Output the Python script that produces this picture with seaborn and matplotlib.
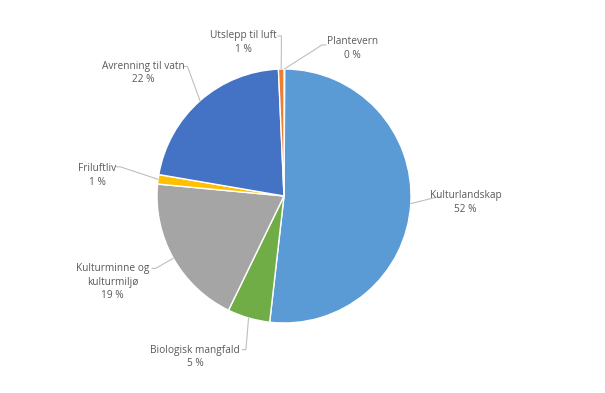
import numpy as np
import matplotlib
matplotlib.use("Agg")
import matplotlib.pyplot as plt
import seaborn as sns

# data (clockwise from 12 o'clock)
categories = ["Plantevern", "Kulturlandskap", "Biologisk mangfald",
              "Kulturminne og\nkulturmiljø", "Friluftliv",
              "Avrenning til vatn", "Utslepp til luft"]
shares = [0.1, 51.7, 5.4, 19.3, 1.2, 21.6, 0.7]
pct_labels = ["0 %", "52 %", "5 %", "19 %", "1 %", "22 %", "1 %"]
colors = ["#264478", "#5B9BD5", "#70AD47", "#A5A5A5", "#FFC000", "#4472C4", "#ED7D31"]

# label layout in pie-radius units: text centre, leader anchor
label_pos = [(0.54, 1.16), (1.43, -0.05), (-0.70, -1.27), (-1.35, -0.68),
             (-1.47, 0.16), (-1.11, 0.97), (-0.32, 1.21)]
anchor_pos = [(0.30, 1.19), (1.20, -0.01), (-0.30, -1.21), (-1.01, -0.57),
              (-1.29, 0.23), (-0.76, 1.02), (-0.02, 1.26)]

sns.set_theme(style="white")
plt.rcParams["font.family"] = ["Open Sans", "DejaVu Sans"]

fig = plt.figure(figsize=(6.05, 3.93), dpi=100)
cx, cy, r = 284, 196, 127
ax = fig.add_axes([(cx - r) / 605, (393 - cy - r) / 393, 2 * r / 605, 2 * r / 393])

wedges, _ = ax.pie(shares, colors=colors, startangle=90, counterclock=False,
                   radius=1, wedgeprops=dict(edgecolor="white", linewidth=1.0))
ax.set_xlim(-1, 1)
ax.set_ylim(-1, 1)
ax.set_aspect("equal")
ax.axis("off")

for w, name, pct, (tx, ty), (axp, ayp) in zip(wedges, categories, pct_labels,
                                               label_pos, anchor_pos):
    mid = np.deg2rad((w.theta1 + w.theta2) / 2)
    ex, ey = np.cos(mid), np.sin(mid)
    tail = 0.03 if tx > axp else -0.03
    ax.plot([ex, axp, axp + tail], [ey, ayp, ayp], color="#BFBFBF",
            linewidth=0.8, clip_on=False)
    ax.text(tx, ty, f"{name}\n{pct}", ha="center", va="center", fontsize=7.3,
            color="#595959", linespacing=1.3, clip_on=False)

fig.savefig("out.png", dpi=100)
